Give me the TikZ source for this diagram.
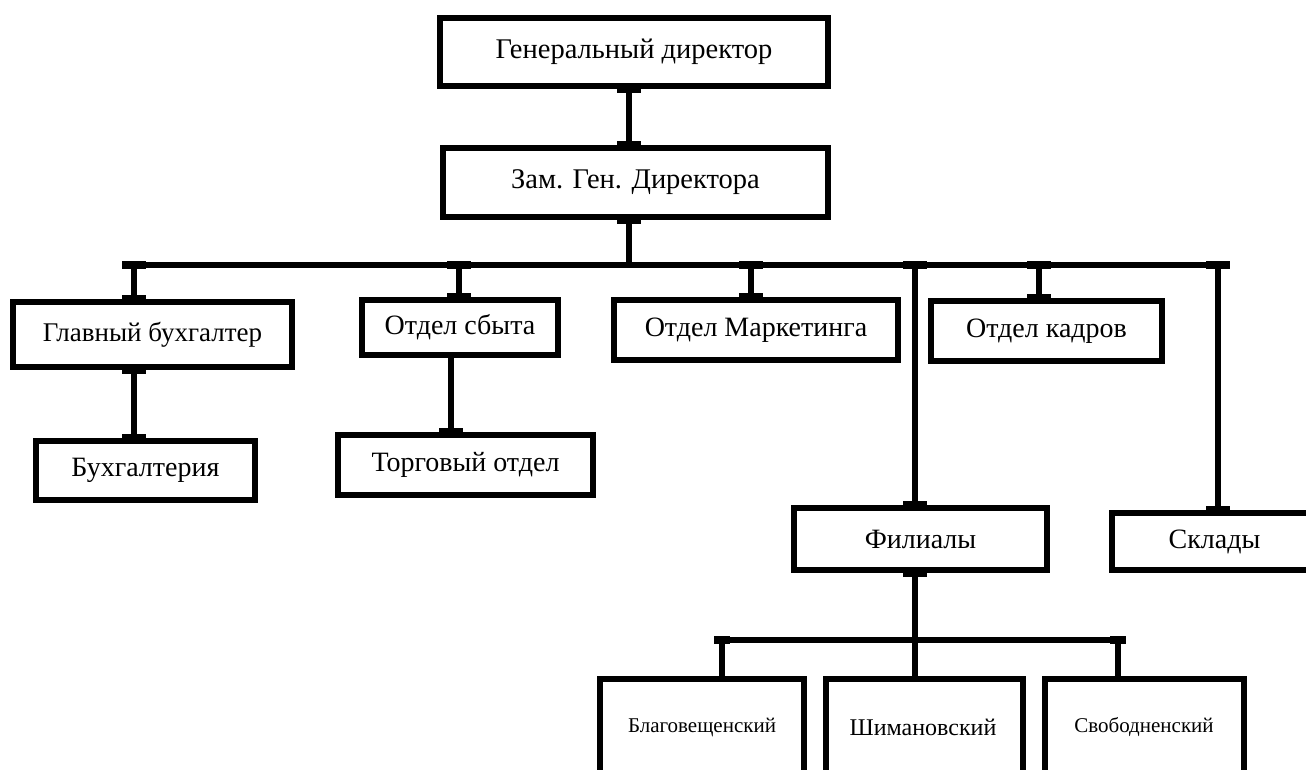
\documentclass[tikz,border=0pt]{standalone}
\usepackage{fontspec}
\setmainfont{Liberation Serif}
\begin{document}
\begin{tikzpicture}[x=1pt,y=-1pt,
  box/.style={draw=black,line width=6pt,fill=white,rectangle,inner sep=0pt,align=center},
  big/.style={font=\fontsize{28.5}{32}\selectfont},
  mid/.style={font=\fontsize{28}{32}\selectfont},
  small/.style={font=\fontsize{21}{24}\selectfont},
  conn/.style={line width=6pt},
  tabm/.style={fill=black,rectangle,inner sep=0pt,minimum width=24pt,minimum height=8pt}]
\path[use as bounding box,clip] (0,0) rectangle (1306,769);
\fill[white] (0,0) rectangle (1306,769);
% columns
\coordinate (cz) at (629,0);
\coordinate (cgb) at (134,0);
\coordinate (csb) at (459,0);
\coordinate (cst) at (451,0);
\coordinate (cmk) at (751,0);
\coordinate (cfl) at (915,0);
\coordinate (ckd) at (1039,0);
\coordinate (csk) at (1218,0);
\coordinate (cbl) at (722,0);
\coordinate (csv) at (1118,0);
\coordinate (bus) at (0,265);
\coordinate (sub) at (0,640);
% connectors
\draw[conn] (cz |- 0,86) -- (cz |- 0,148);
\draw[conn] (cz |- 0,217) -- (cz |- bus);
\draw[conn] (cgb |- bus) -- (csk |- bus);
\draw[conn] (cgb |- bus) -- (cgb |- 0,302);
\draw[conn] (csb |- bus) -- (csb |- 0,300);
\draw[conn] (cmk |- bus) -- (cmk |- 0,300);
\draw[conn] (ckd |- bus) -- (ckd |- 0,301);
\draw[conn] (cfl |- bus) -- (cfl |- 0,508);
\draw[conn] (csk |- bus) -- (csk |- 0,513);
\draw[conn] (cgb |- 0,367) -- (cgb |- 0,441);
\draw[conn] (cst |- 0,355) -- (cst |- 0,435);
\draw[conn] (cfl |- 0,570) -- (cfl |- sub);
\draw[conn] (cbl |- sub) -- (csv |- sub);
\draw[conn] (cbl |- sub) -- (cbl |- 0,679);
\draw[conn] (cfl |- sub) -- (cfl |- 0,679);
\draw[conn] (csv |- sub) -- (csv |- 0,679);
% boxes
\node[box,big,minimum width=388pt,minimum height=68pt] (gen) at (634,52) {\raisebox{3pt}{Генеральный директор}};
\node[box,big,minimum width=385pt,minimum height=69pt] (zam) at (635.5,182.5) {\raisebox{1pt}{Зам. Ген. Директора}};
\node[box,font=\fontsize{27}{32}\selectfont,minimum width=279pt,minimum height=65pt] (gb) at (152.5,334.5) {\raisebox{3pt}{Главный бухгалтер}};
\node[box,mid,minimum width=219pt,minimum height=59pt] (buh) at (145.5,470.5) {Бухгалтерия};
\node[box,mid,minimum width=196pt,minimum height=55pt] (sbyt) at (460,327.5) {Отдел сбыта};
\node[box,mid,minimum width=255pt,minimum height=60pt] (torg) at (465.5,465) {Торговый отдел};
\node[box,mid,minimum width=284pt,minimum height=60pt] (mark) at (756,330) {\raisebox{1pt}{Отдел Маркетинга}};
\node[box,mid,minimum width=231pt,minimum height=60pt] (kadr) at (1046.5,331) {Отдел кадров};
\node[box,mid,minimum width=253pt,minimum height=62pt] (fil) at (920.5,539) {Филиалы};
\node[box,mid,minimum width=205pt,minimum height=57pt] (skl) at (1214.5,541.5) {Склады};
\node[box,minimum width=204pt,minimum height=118pt] (blag) at (702,738) {};
\node[box,minimum width=197pt,minimum height=118pt] (shim) at (924.5,738) {};
\node[box,minimum width=199pt,minimum height=118pt] (svob) at (1144.5,738) {};
\node[small] (tblag) at (702,727) {Благовещенский};
\node[font=\fontsize{24}{27}\selectfont] (tshim) at (923,727) {Шимановский};
\node[small] (tsvob) at (1144,727) {Свободненский};
% tabs at joints
\node[tabm] (t1) at (gen.south -| cz) {};
\node[tabm] (t2) at (zam.north -| cz) {};
\node[tabm] (t3) at (zam.south -| cz) {};
\node[tabm] (t4) at (cgb |- bus) {};
\node[tabm] (t5) at (csb |- bus) {};
\node[tabm] (t6) at (cmk |- bus) {};
\node[tabm] (t7) at (cfl |- bus) {};
\node[tabm] (t8) at (ckd |- bus) {};
\node[tabm] (t9) at (csk |- bus) {};
\node[tabm] (t10) at (gb.north -| cgb) {};
\node[tabm] (t11) at (gb.south -| cgb) {};
\node[tabm] (t12) at (buh.north -| cgb) {};
\node[tabm] (t13) at (sbyt.north -| csb) {};
\node[tabm] (t14) at (torg.north -| cst) {};
\node[tabm] (t15) at (mark.north -| cmk) {};
\node[tabm] (t16) at (kadr.north -| ckd) {};
\node[tabm] (t17) at (fil.north -| cfl) {};
\node[tabm] (t18) at (skl.north -| csk) {};
\node[tabm] (t19) at (fil.south -| cfl) {};
\node[tabm,minimum width=16pt] (t20) at (cbl |- sub) {};
\node[tabm,minimum width=16pt] (t21) at (csv |- sub) {};
\end{tikzpicture}
\end{document}
